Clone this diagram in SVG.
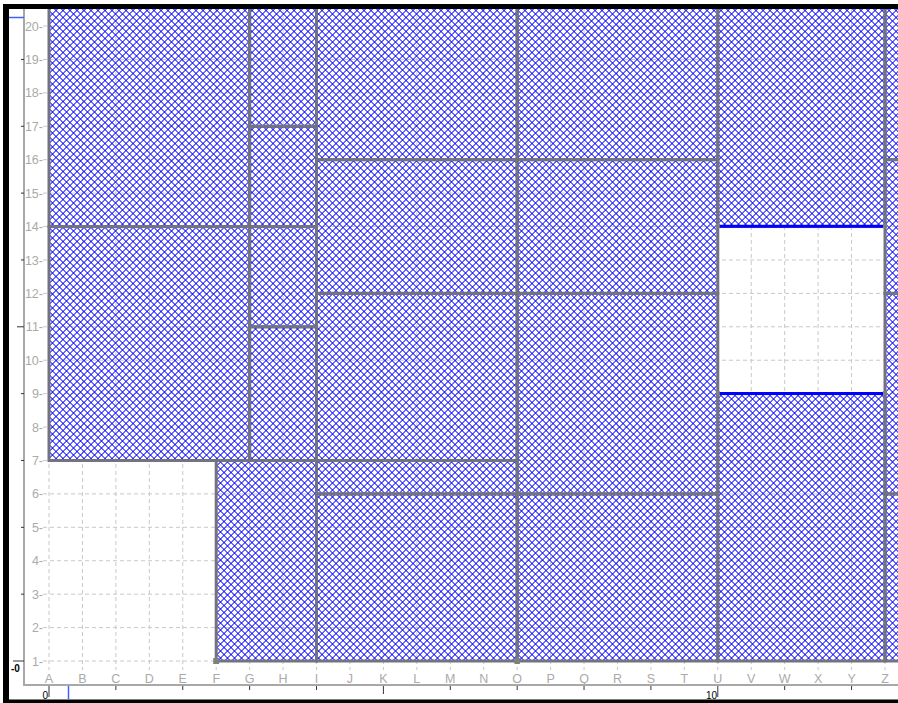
<svg xmlns="http://www.w3.org/2000/svg" width="898" height="703" viewBox="0 0 898 703">
<style>
.grid{fill:none;stroke:#c8c8c8;stroke-width:1;stroke-dasharray:4 3}
.cell{fill:url(#hatch);stroke:#737380;stroke-width:3}
.lbl{font-family:"Liberation Sans",Arial,sans-serif;font-size:12.5px;fill:#aaaaaa}
.ylbl{font-family:"Liberation Sans",Arial,sans-serif;font-size:12.5px;fill:#aaaaaa;text-anchor:end}
.rul{font-family:"Liberation Sans",Arial,sans-serif;font-size:10px;fill:#000}
.pt{fill:#808080}
.tick{stroke:#333;stroke-width:1;fill:none}
</style>
<defs>
<pattern id="hatch" patternUnits="userSpaceOnUse" width="4.95" height="4.95" patternTransform="rotate(45)">
<path d="M2.475,0V4.95M0,2.475H4.95" stroke="#0000ff" stroke-width="0.9" fill="none"/>
</pattern>
</defs>
<rect x="0" y="0" width="898" height="703" fill="#fff"/>
<g id="grid">
<path class="grid" d="M43,661H898M43,627.58H898M43,594.16H898M43,560.74H898M43,527.32H898M43,493.9H898M43,460.48H898M43,427.06H898M43,393.64H898M43,360.22H898M43,326.8H898M43,293.38H898M43,259.96H898M43,226.54H898M43,193.12H898M43,159.7H898M43,126.28H898M43,92.86H898M43,59.44H898M43,26.02H898"/>
<path class="grid" d="M49,9V670M82.44,9V670M115.88,9V670M149.32,9V670M182.76,9V670M216.2,9V670M249.64,9V670M283.08,9V670M316.52,9V670M349.96,9V670M383.4,9V670M416.84,9V670M450.28,9V670M483.72,9V670M517.16,9V670M550.6,9V670M584.04,9V670M617.48,9V670M650.92,9V670M684.36,9V670M717.8,9V670M751.24,9V670M784.68,9V670M818.12,9V670M851.56,9V670M885,9V670"/>
</g>
<g id="cells">
<g id="n1"><rect class="cell" x="49" y="7" width="200.64" height="219.54"/></g>
<g id="n2"><rect class="cell" x="49" y="226.54" width="200.64" height="233.94"/></g>
<g id="n3"><rect class="cell" x="249.64" y="7" width="66.88" height="119.28"/></g>
<g id="n4"><rect class="cell" x="249.64" y="126.28" width="66.88" height="100.26"/></g>
<g id="n5"><rect class="cell" x="249.64" y="226.54" width="66.88" height="100.26"/></g>
<g id="n6"><rect class="cell" x="249.64" y="326.8" width="66.88" height="133.68"/></g>
<g id="n7"><rect class="cell" x="316.52" y="7" width="200.64" height="152.7"/></g>
<g id="n8"><rect class="cell" x="517.16" y="7" width="200.64" height="152.7"/></g>
<g id="n9"><rect class="cell" x="717.8" y="7" width="167.2" height="219.54"/></g>
<g id="n10"><rect class="cell" x="316.52" y="159.7" width="200.64" height="133.68"/></g>
<g id="n11"><rect class="cell" x="517.16" y="159.7" width="200.64" height="133.68"/></g>
<g id="n12"><rect class="cell" x="316.52" y="293.38" width="200.64" height="167.1"/></g>
<g id="n13"><rect class="cell" x="316.52" y="460.48" width="200.64" height="33.42"/></g>
<g id="n14"><rect class="cell" x="316.52" y="493.9" width="200.64" height="167.1"/></g>
<g id="n15"><rect class="cell" x="517.16" y="293.38" width="200.64" height="200.52"/></g>
<g id="n16"><rect class="cell" x="517.16" y="493.9" width="200.64" height="167.1"/></g>
<g id="n17"><rect class="cell" x="717.8" y="393.64" width="167.2" height="267.36"/></g>
<g id="n18"><rect class="cell" x="216.2" y="460.48" width="100.32" height="200.52"/></g>
<g id="n19"><rect class="cell" x="885" y="7" width="20" height="152.7"/></g>
<g id="n20"><rect class="cell" x="885" y="159.7" width="20" height="133.68"/></g>
<g id="n21"><rect class="cell" x="885" y="293.38" width="20" height="200.52"/></g>
<g id="n22"><rect class="cell" x="885" y="493.9" width="20" height="167.1"/></g>
<g id="window">
<path d="M717.8,226.3H885M717.8,393.4H885" stroke="#0000ff" stroke-width="3" fill="none"/>
</g>
</g>
<g id="connectors"></g>
<g id="points">
<rect class="pt" x="213.2" y="658" width="6" height="6"/>
<rect class="pt" x="514.4" y="658" width="5.5" height="6"/>
<rect class="pt" x="715.8" y="224" width="4" height="4"/>
<rect class="pt" x="883" y="224" width="4" height="4"/>
<rect class="pt" x="715.8" y="391" width="4" height="4"/>
<rect class="pt" x="883" y="391" width="4" height="4"/>
</g>
<g id="axes">
<rect x="9" y="9" width="15" height="690" fill="#fff"/>
<rect x="24" y="686" width="874" height="14" fill="#fff"/>
<path d="M24,9V686M24,685H898" stroke="#a8a8a8" stroke-width="2" fill="none"/>
<path d="M9,17.5H24" stroke="#4060ff" stroke-width="1.5"/>
<path d="M68.5,686V699" stroke="#4060ff" stroke-width="1.5"/>
<path class="tick" d="M13,661H24M21,594.16H24M21,527.32H24M21,460.48H24M21,393.64H24M17,326.8H24M21,259.96H24M21,193.12H24M21,126.28H24M21,59.44H24"/>
<path class="tick" d="M49,686V697M115.88,686V690M182.76,686V690M249.64,686V690M316.52,686V690M383.4,686V694M450.28,686V690M517.16,686V690M584.04,686V690M650.92,686V690M717.8,686V697M784.68,686V690M851.56,686V690"/>
<text class="rul" x="48" y="699" text-anchor="end">0</text>
<text class="rul" x="717" y="699" text-anchor="end">10</text>
<text class="rul" x="11" y="672" font-weight="bold">-0</text>
</g>
<g id="xlabels" class="lbl" text-anchor="middle">
<text x="49" y="683">A</text><text x="82.44" y="683">B</text><text x="115.88" y="683">C</text><text x="149.32" y="683">D</text><text x="182.76" y="683">E</text><text x="216.2" y="683">F</text><text x="249.64" y="683">G</text><text x="283.08" y="683">H</text><text x="316.52" y="683">I</text><text x="349.96" y="683">J</text><text x="383.4" y="683">K</text><text x="416.84" y="683">L</text><text x="450.28" y="683">M</text><text x="483.72" y="683">N</text><text x="517.16" y="683">O</text><text x="550.6" y="683">P</text><text x="584.04" y="683">Q</text><text x="617.48" y="683">R</text><text x="650.92" y="683">S</text><text x="684.36" y="683">T</text><text x="717.8" y="683">U</text><text x="751.24" y="683">V</text><text x="784.68" y="683">W</text><text x="818.12" y="683">X</text><text x="851.56" y="683">Y</text><text x="885" y="683">Z</text>
</g>
<g id="ylabels">
<text class="ylbl" x="43" y="665.5">1-</text><text class="ylbl" x="43" y="632.1">2-</text><text class="ylbl" x="43" y="598.7">3-</text><text class="ylbl" x="43" y="565.2">4-</text><text class="ylbl" x="43" y="531.8">5-</text><text class="ylbl" x="43" y="498.4">6-</text><text class="ylbl" x="43" y="465">7-</text><text class="ylbl" x="43" y="431.6">8-</text><text class="ylbl" x="43" y="398.1">9-</text><text class="ylbl" x="43" y="364.7">10-</text><text class="ylbl" x="43" y="331.3">11-</text><text class="ylbl" x="43" y="297.9">12-</text><text class="ylbl" x="43" y="264.5">13-</text><text class="ylbl" x="43" y="231">14-</text><text class="ylbl" x="43" y="197.6">15-</text><text class="ylbl" x="43" y="164.2">16-</text><text class="ylbl" x="43" y="130.8">17-</text><text class="ylbl" x="43" y="97.4">18-</text><text class="ylbl" x="43" y="63.9">19-</text><text class="ylbl" x="43" y="30.5">20-</text>
</g>
<g id="frame" fill="#000">
<rect x="3" y="4" width="895" height="5"/>
<rect x="3" y="4" width="6" height="699"/>
<rect x="3" y="699.5" width="895" height="3.5"/>
</g>
</svg>
